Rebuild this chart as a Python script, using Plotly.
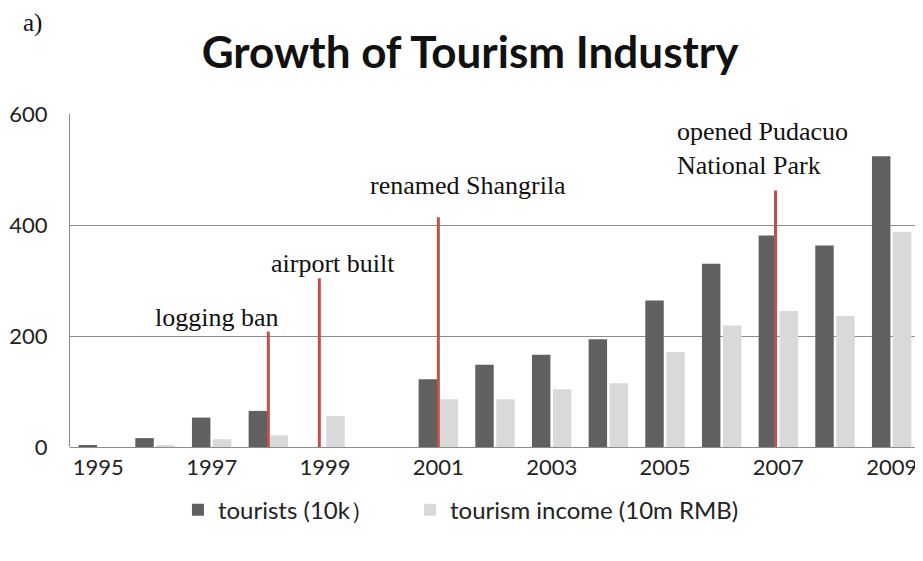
import plotly.graph_objects as go

# data
years = list(range(1995, 2010))
tourists = [3, 16, 53, 65, 0, 0, 122, 148, 166, 194, 264, 330, 381, 363, 524]
income = [0, 2, 14, 21, 56, 0, 86, 86, 104, 115, 171, 219, 245, 236, 388]

# event markers: label, x position, line top
event_labels = ["logging ban", "airport built", "renamed Shangrila", "opened Pudacuo<br>National Park"]
event_x = [1998.0, 1998.9, 2001.0, 2006.95]
event_top = [208, 304, 414, 462]
event_bottom = [0, -5, 0, 0]
label_x = [1997.09, 1999.14, 2001.52, 2005.17]
label_y = [234, 331, 472, 537]
label_anchor = ["center", "center", "center", "left"]

tick_years = [1995, 1997, 1999, 2001, 2003, 2005, 2007, 2009]

fig = go.Figure()

fig.add_trace(go.Bar(
    x=years, y=tourists, name="tourists (10k）",
    marker=dict(color="#606060", line=dict(width=0)),
    legend="legend",
))
fig.add_trace(go.Bar(
    x=years, y=income, name="tourism income (10m RMB)",
    marker=dict(color="#D9D9D9", line=dict(width=0)),
    legend="legend2",
))

# red event lines
for x, top, bot in zip(event_x, event_top, event_bottom):
    fig.add_trace(go.Scatter(
        x=[x, x], y=[bot, top], mode="lines",
        line=dict(color="#C0504D", width=3),
        showlegend=False, hoverinfo="skip", cliponaxis=False,
    ))

for text, x, y, anc in zip(event_labels, label_x, label_y, label_anchor):
    fig.add_annotation(
        x=x, y=y, text=text, showarrow=False, xanchor=anc, align="left",
        font=dict(family="Liberation Serif", size=26, color="#111111"),
    )

fig.add_annotation(
    xref="paper", yref="paper", x=-0.056, y=1.272, text="a)", showarrow=False,
    xanchor="left", yanchor="middle", borderpad=0,
    font=dict(family="Liberation Serif", size=25, color="#111111"),
)

legend_style = dict(
    orientation="h", xanchor="left", y=-0.19, yanchor="middle",
    font=dict(family="Lato", size=24, color="#222222"),
    itemwidth=30, bgcolor="rgba(0,0,0,0)",
)

# the page body adds an 8px offset, so the figure is 8px smaller than the window
fig.update_layout(
    width=915, height=553,
    title=dict(
        text="<b>Growth of Tourism Industry</b>", x=0.505, xanchor="center",
        y=0.92, yanchor="middle",
        font=dict(family="Lato", size=44, color="#111111"),
    ),
    paper_bgcolor="white",
    plot_bgcolor="white",
    font=dict(family="Lato", size=22, color="#222222"),
    barmode="group",
    bargap=0.26,
    bargroupgap=0.12,
    margin=dict(l=62, r=3, t=106, b=114, autoexpand=False),
    legend=dict(x=0.127, **legend_style),
    legend2=dict(x=0.400, **legend_style),
)

fig.update_xaxes(
    range=[1994.5, 2009.5], tickvals=tick_years, ticktext=[str(y) for y in tick_years],
    showgrid=False, zeroline=False, showline=False, ticks="",
    ticklabelstandoff=5, tickfont=dict(size=22), automargin=False,
)
fig.update_yaxes(
    range=[0, 600], tickvals=[0, 200, 400, 600],
    showgrid=True, gridcolor="#8C8C8C", gridwidth=1,
    zeroline=True, zerolinecolor="#8C8C8C", zerolinewidth=1,
    showline=True, linecolor="#8C8C8C", linewidth=1,
    ticks="", ticklabelstandoff=17, tickfont=dict(size=22), automargin=False,
)

fig.write_html("out.html")
